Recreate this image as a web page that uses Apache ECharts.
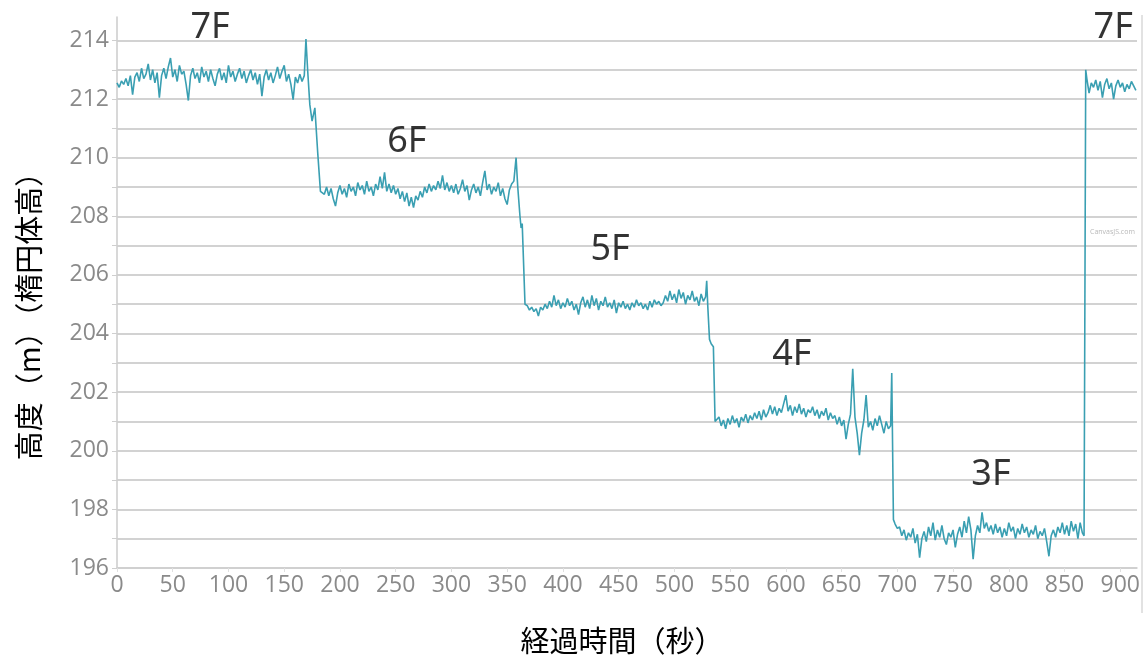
<!DOCTYPE html>
<html>
<head>
<meta charset="utf-8">
<script src="https://cdn.jsdelivr.net/npm/echarts@6/dist/echarts.min.js"></script>
<style>
html,body{margin:0;padding:0;background:#fff;}
#chart{width:1145px;height:659px;}
</style>
</head>
<body>
<div id="chart"></div>
<script>
// ---- data ----
const sampleStep = 2; // seconds between plateau samples

// 7F (start) t = 0..168
const floor7aStart = 0;
const floor7a = [212.55,212.40,212.62,212.50,212.70,212.45,212.80,212.15,212.75,212.90,
212.60,213.05,212.70,212.85,213.20,212.65,213.00,212.55,212.90,212.05,
212.80,213.05,212.70,213.10,213.40,212.75,213.00,212.60,213.15,212.85,
212.95,212.50,211.95,212.80,213.05,212.70,212.90,212.55,213.10,212.75,
212.95,212.60,213.00,212.70,212.45,212.85,213.05,212.65,212.90,212.55,
213.15,212.75,212.95,212.60,212.85,213.05,212.70,212.95,212.55,212.80,
213.00,212.65,212.90,212.50,212.85,212.10,212.75,213.00,212.65,212.90,
212.55,212.80,213.10,212.70,212.95,213.15,212.60,212.85,212.50,211.98,
212.75,212.55,212.85,212.60,212.80];

const trans7to6 = [[169.5,214.05],[171,213.0],[173,211.8],[175,211.25],[177.5,211.7],[180,210.2],[182.5,208.85]];

// 6F t = 184..356
const floor6Start = 184;
const floor6 = [208.90,208.75,209.00,208.70,208.95,208.60,208.35,208.80,209.05,208.75,
208.95,208.65,209.10,208.85,209.00,208.70,209.15,208.90,209.05,208.75,
209.20,208.85,209.00,208.70,209.10,208.90,209.35,208.95,209.50,208.85,
209.10,208.80,209.05,208.75,208.95,208.60,208.85,208.50,208.80,208.35,
208.65,208.30,208.70,208.55,208.85,208.65,209.00,208.80,209.10,208.85,
209.05,208.90,209.20,208.95,209.40,208.90,209.15,208.85,209.05,208.80,
209.10,208.75,208.95,209.25,208.85,209.05,208.55,208.90,209.10,208.80,
209.00,208.70,209.15,209.55,208.90,209.10,208.75,209.00,208.85,209.15,
208.70,208.95,208.60,208.40,208.90,209.10,209.20];

const trans6to5 = [[358,210.0],[359.5,209.0],[361.5,208.0],[362.5,207.6],[363.5,207.75],[366,205.0]];

// 5F t = 368..528
const floor5Start = 368;
const floor5 = [204.95,204.80,204.90,204.75,204.85,204.60,204.90,204.80,205.00,204.85,
205.10,204.90,205.30,204.95,205.15,204.85,205.05,204.90,205.20,204.95,
205.10,204.80,205.00,204.65,205.05,205.25,204.90,205.15,204.85,205.30,
204.95,205.20,204.80,205.10,204.95,205.25,204.90,205.05,204.85,205.15,
204.70,205.05,204.90,205.10,204.85,205.00,204.80,205.05,204.90,205.15,
204.95,205.05,204.85,205.00,204.80,205.10,204.90,205.15,205.00,205.10,
204.95,205.05,205.30,205.10,205.45,205.15,205.35,205.05,205.50,205.20,
205.40,205.00,205.30,205.15,205.45,205.10,205.25,204.95,205.35,205.10,
205.25];

const trans5to4 = [[529,205.8],[530,204.9],[531.5,203.8],[533,203.65],[535,203.55],[536.5,201.0]];

// 4F t = 538..694
const floor4Start = 538;
const floor4 = [200.95,201.15,200.85,201.05,200.75,201.10,200.90,201.20,200.95,201.10,
200.80,201.15,201.00,201.25,200.95,201.20,201.05,201.30,201.10,201.35,
201.05,201.40,201.15,201.30,201.55,201.25,201.50,201.20,201.45,201.30,
201.60,201.90,201.35,201.55,201.20,201.50,201.30,201.60,201.25,201.45,
201.15,201.40,201.30,201.50,201.20,201.40,201.10,201.35,201.20,201.45,
201.05,201.30,201.10,201.20,200.90,201.15,200.85,201.05,200.40,200.90,
201.25,202.80,201.15,200.60,199.85,200.60,201.05,201.90,200.80,201.00,
200.70,201.10,200.85,201.20,200.90,200.60,201.00,200.75,200.85];

const trans4to3 = [[695,202.65],[696.5,197.65]];

// 3F t = 698..866
const floor3Start = 698;
const floor3 = [197.50,197.35,197.40,197.10,197.30,196.95,197.20,197.05,197.35,196.85,
197.15,196.35,197.00,197.25,196.90,197.40,197.10,197.55,196.95,197.30,
197.05,197.45,197.00,196.80,197.20,197.05,197.30,196.70,197.15,197.40,
197.05,197.60,197.20,197.75,197.30,196.30,197.10,197.45,197.20,197.90,
197.35,197.55,197.25,197.45,197.15,197.50,197.20,197.40,197.05,197.35,
197.10,197.55,197.25,197.40,197.00,197.35,197.15,197.50,197.20,197.40,
197.05,197.30,197.15,197.45,197.00,197.25,197.10,197.35,196.90,196.40,
197.10,197.30,197.05,197.40,197.20,197.55,197.15,197.45,197.10,197.60,
197.25,197.50,197.00,197.55,197.20];

const trans3to7 = [[867.5,197.1],[869,213.0]];

// 7F (end) t = 870..914
const floor7bStart = 870;
const floor7b = [212.70,212.20,212.55,212.40,212.65,212.30,212.60,212.05,212.50,212.70,
212.35,212.55,212.00,212.45,212.65,212.40,212.55,212.25,212.50,212.35,
212.60,212.45,212.30];

// floor annotations
const floorNames = ['7F','6F','5F','4F','3F','7F'];
const floorLabelTime = [83.5, 260, 442.4, 605.4, 784, 893.7];
const floorLabelHeight = [214.45, 210.55, 206.85, 203.27, 199.18, 214.45];

// axis tick settings
const xTicks = {min: 0, max: 915, interval: 50};
const yTicks = {min: 196, max: 214.8, interval: 1, labelEvery: 2};

const xAxisTitle = '経過時間（秒）';
const yAxisTitle = '高度（m）（楕円体高）';

// ---- build series ----
function plateau(start, values) {
  return values.map((v, i) => [start + i * sampleStep, v]);
}
const seriesData = [].concat(
  plateau(floor7aStart, floor7a), trans7to6,
  plateau(floor6Start, floor6), trans6to5,
  plateau(floor5Start, floor5), trans5to4,
  plateau(floor4Start, floor4), trans4to3,
  plateau(floor3Start, floor3), trans3to7,
  plateau(floor7bStart, floor7b)
);
const labelData = floorNames.map((n, i) => ({name: n, value: [floorLabelTime[i], floorLabelHeight[i]]}));

const chart = echarts.init(document.getElementById('chart'), null, {renderer: 'canvas'});
const gridColor = '#d2d2d2';
chart.setOption({
  animation: false,
  backgroundColor: '#ffffff',
  grid: {left: 117, right: 8, top: 17, bottom: 91, containLabel: false},
  xAxis: {
    type: 'value', min: xTicks.min, max: xTicks.max, interval: xTicks.interval,
    axisLine: {show: true, lineStyle: {color: '#cfcfcf', width: 1.6}},
    axisTick: {show: true, length: 4, lineStyle: {color: '#e0e0e0'}},
    splitLine: {show: false},
    axisLabel: {
      color: '#8a8a8a', fontSize: 23, fontFamily: 'Open Sans', margin: 6,
      showMaxLabel: false,
      formatter: v => (v % xTicks.interval === 0 ? String(v) : '')
    }
  },
  yAxis: {
    type: 'value', min: yTicks.min, max: yTicks.max, interval: yTicks.interval,
    axisLine: {show: true, lineStyle: {color: '#cfcfcf', width: 1.6}},
    axisTick: {show: true, length: 5, lineStyle: {color: '#cfcfcf'}},
    splitLine: {show: true, showMaxLine: false, lineStyle: {color: gridColor, width: 1.8}},
    axisLabel: {
      color: '#8a8a8a', fontSize: 23, fontFamily: 'Open Sans', margin: 8,
      showMaxLabel: false,
      formatter: v => (Number.isInteger(v) && (v - yTicks.min) % yTicks.labelEvery === 0 ? String(v) : '')
    }
  },
  series: [
    {
      type: 'line', data: seriesData, showSymbol: false, symbol: 'none',
      lineStyle: {color: '#3a9fb2', width: 1.6}, z: 3
    },
    {
      type: 'scatter', data: labelData, symbolSize: 0, z: 4,
      label: {
        show: true, position: 'inside', formatter: p => p.name,
        color: '#000000', textBorderWidth: 0, textBorderColor: 'transparent',
        fontSize: 36, fontFamily: 'Noto Sans'
      }
    }
  ],
  graphic: [
    {
      type: 'text', x: 29, y: 309, rotation: Math.PI / 2,
      style: {text: yAxisTitle, fill: '#000', fontSize: 29, fontFamily: 'Noto Sans CJK JP', align: 'center', verticalAlign: 'middle'}
    },
    {
      type: 'text', x: 622, y: 641,
      style: {text: xAxisTitle, fill: '#000', fontSize: 29, fontFamily: 'Noto Sans CJK JP', align: 'center', verticalAlign: 'middle'}
    },
    {
      type: 'line', shape: {x1: 1142, y1: 15, x2: 1142, y2: 613},
      style: {stroke: '#e2e2e2', lineWidth: 2}
    },
    {
      type: 'text', x: 1090, y: 232,
      style: {text: 'CanvasJS.com', fill: '#b8b8b8', fontSize: 7, fontFamily: 'Open Sans', verticalAlign: 'middle'}
    }
  ]
});
</script>
</body>
</html>
